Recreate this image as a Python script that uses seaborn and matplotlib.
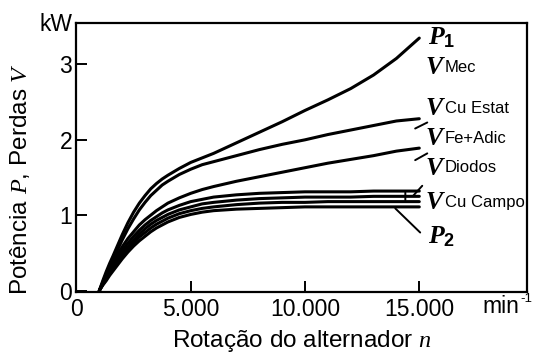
import numpy as np
import pandas as pd
import matplotlib
matplotlib.use("Agg")
import matplotlib.pyplot as plt
import seaborn as sns

# ---- data ----
rpm = [1000, 1150, 1300, 1450, 1600, 1800, 2000, 2250, 2500, 2750, 3000, 3250, 3500, 3750, 4000,
       4500, 5000, 5500, 6000, 7000, 8000, 9000, 10000, 11000, 12000, 13000, 14000, 15000]
p1        = [0, 0.13, 0.25, 0.36, 0.46, 0.60, 0.74, 0.90, 1.04, 1.16, 1.26, 1.35, 1.42, 1.48, 1.53,
             1.62, 1.70, 1.76, 1.82, 1.96, 2.10, 2.24, 2.39, 2.53, 2.68, 2.86, 3.08, 3.35]
cu_estat  = [0, 0.11, 0.22, 0.32, 0.41, 0.54, 0.67, 0.82, 0.95, 1.07, 1.17, 1.26, 1.33, 1.40, 1.45,
             1.54, 1.61, 1.67, 1.71, 1.79, 1.87, 1.94, 2.00, 2.07, 2.13, 2.19, 2.25, 2.28]
fe_adic   = [0, 0.10, 0.20, 0.29, 0.37, 0.48, 0.58, 0.69, 0.78, 0.87, 0.94, 1.00, 1.06, 1.11, 1.16,
             1.23, 1.29, 1.34, 1.38, 1.45, 1.51, 1.57, 1.63, 1.69, 1.74, 1.79, 1.85, 1.89]
diodos    = [0, 0.09, 0.18, 0.26, 0.34, 0.44, 0.53, 0.63, 0.72, 0.80, 0.87, 0.93, 0.98, 1.03, 1.07,
             1.13, 1.18, 1.21, 1.24, 1.27, 1.29, 1.30, 1.31, 1.31, 1.31, 1.32, 1.32, 1.32]
cu_campo1 = [0, 0.08, 0.16, 0.24, 0.31, 0.40, 0.49, 0.58, 0.67, 0.75, 0.82, 0.88, 0.93, 0.97, 1.01,
             1.07, 1.11, 1.15, 1.17, 1.20, 1.22, 1.23, 1.24, 1.24, 1.24, 1.25, 1.25, 1.25]
cu_campo2 = [0, 0.08, 0.15, 0.22, 0.29, 0.38, 0.46, 0.55, 0.63, 0.71, 0.77, 0.83, 0.88, 0.92, 0.96,
             1.02, 1.06, 1.09, 1.11, 1.14, 1.16, 1.17, 1.17, 1.18, 1.18, 1.18, 1.18, 1.18]
p2        = [0, 0.07, 0.13, 0.20, 0.26, 0.34, 0.42, 0.51, 0.59, 0.66, 0.72, 0.78, 0.83, 0.87, 0.91,
             0.97, 1.01, 1.04, 1.06, 1.08, 1.09, 1.10, 1.11, 1.11, 1.11, 1.11, 1.11, 1.11]

series_names = ["P1", "CuEstat", "FeAdic", "Diodos", "CuCampo1", "CuCampo2", "P2"]
series_vals = [p1, cu_estat, fe_adic, diodos, cu_campo1, cu_campo2, p2]

x_ticks = [0, 5000, 10000, 15000]
x_ticklabels = ["0", "5.000", "10.000", "15.000"]
y_ticks = [0, 1, 2, 3]
y_ticklabels = ["0", "1", "2", "3"]

df = pd.concat(
    [pd.DataFrame({"rpm": rpm, "kW": v, "curve": n}) for n, v in zip(series_names, series_vals)],
    ignore_index=True,
)

# ---- style ----
sns.set_style("ticks")
plt.rcParams["font.family"] = ["Liberation Sans", "DejaVu Sans"]
plt.rcParams["text.color"] = "black"
plt.rcParams["axes.labelcolor"] = "black"
plt.rcParams["xtick.color"] = "black"
plt.rcParams["ytick.color"] = "black"
plt.rcParams["mathtext.fontset"] = "custom"
plt.rcParams["mathtext.rm"] = "Liberation Sans"
plt.rcParams["mathtext.sf"] = "Liberation Sans:bold"
plt.rcParams["mathtext.it"] = "Liberation Serif:italic"
plt.rcParams["mathtext.bf"] = "Liberation Serif:italic:bold"

fig = plt.figure(figsize=(5.33, 3.54), dpi=100)
ax = fig.add_axes([0.1435, 0.175, 0.8455, 0.76])

sns.lineplot(data=df, x="rpm", y="kW", hue="curve", units="curve", estimator=None,
             palette=["black"] * len(series_names), legend=False, linewidth=2.2,
             sort=False, ax=ax)

ax.set_xlim(0, 19720)
ax.set_ylim(-0.02, 3.55)
ax.set_xticks(x_ticks)
ax.set_xticklabels(x_ticklabels)
ax.set_yticks(y_ticks)
ax.set_yticklabels(y_ticklabels)
ax.tick_params(direction="in", length=8, width=1.4, labelsize=16.5, color="black", labelcolor="black")
ax.tick_params(axis="x", pad=4)
ax.tick_params(axis="y", pad=3)
for s in ax.spines.values():
    s.set_visible(True)
    s.set_linewidth(1.6)
    s.set_color("black")

ax.set_xlabel("Rotação do alternador $n$", fontsize=17.5, color="black")
ax.xaxis.set_label_coords(0.5, -0.135)
ax.set_ylabel("Potência $P$, Perdas $V$", fontsize=17.5, color="black")
ax.yaxis.set_label_coords(-0.098, 0.42)

ax.text(-0.009, 0.996, "kW", transform=ax.transAxes, ha="right", va="center", fontsize=16.5)
ax.text(0.9, -0.052, "min", transform=ax.transAxes, ha="left", va="center", fontsize=16.5)
ax.text(0.984, -0.025, "-1", transform=ax.transAxes, ha="left", va="center", fontsize=9.5)

# ---- curve labels ----
big = 18.5
small = 12
xv = 15260
xs = 16130
ax.text(15390, 3.35, r"$\mathbf{P}_{\mathsf{1}}$", ha="left", va="center", fontsize=big)
ax.text(15390, 0.72, r"$\mathbf{P}_{\mathsf{2}}$", ha="left", va="center", fontsize=big)
for yv, lab in [(2.96, "Mec"), (2.42, "Cu Estat"), (2.02, "Fe+Adic"), (1.63, "Diodos"), (1.17, "Cu Campo")]:
    ax.text(xv, yv, r"$\mathbf{V}$", ha="left", va="center", fontsize=big)
    ax.text(xs, yv, lab, ha="left", va="center", fontsize=small)

# ---- leader lines ----
lp = dict(arrowstyle="-", color="black", lw=1.4, shrinkA=0, shrinkB=0)
for (x0, y0), (x1, y1) in [((14820, 2.15), (15350, 2.23)),
                           ((14820, 1.73), (15350, 1.82)),
                           ((14740, 1.26), (15130, 1.39)),
                           ((14390, 1.30), (14390, 1.20)),
                           ((13950, 1.09), (15040, 0.77))]:
    ax.annotate("", xy=(x1, y1), xytext=(x0, y0), arrowprops=lp)

fig.savefig("out.png", dpi=100)
